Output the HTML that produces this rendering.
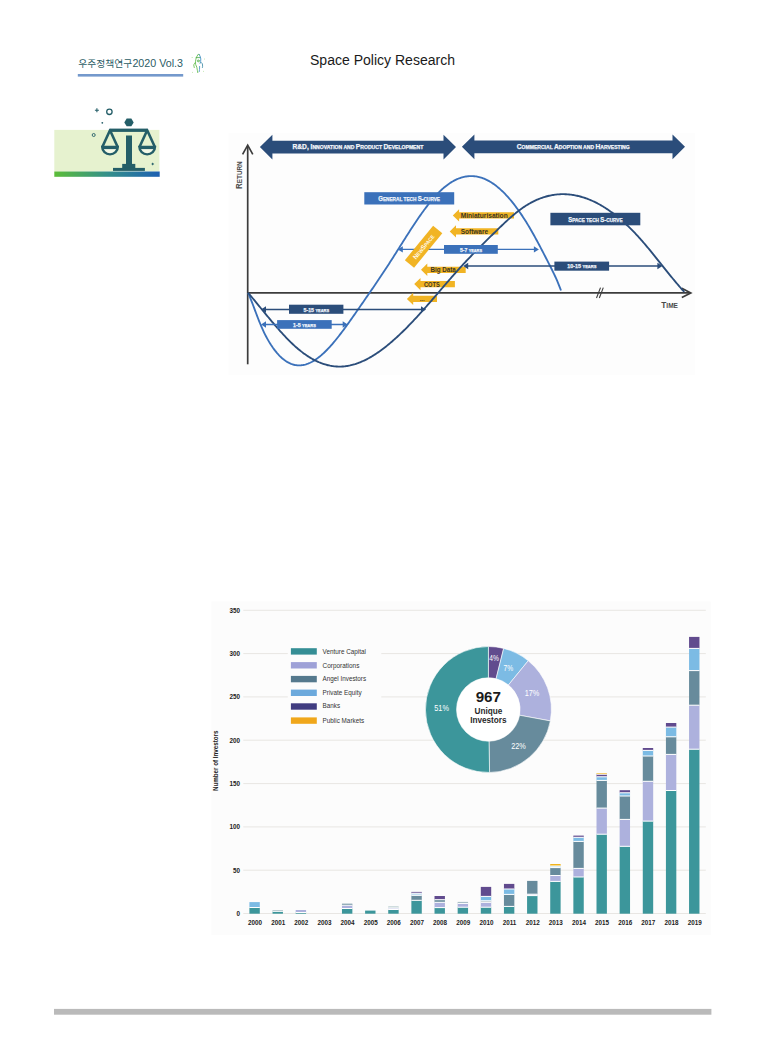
<!DOCTYPE html>
<html><head><meta charset="utf-8"><title>Space Policy Research</title>
<style>
html,body{margin:0;padding:0;background:#ffffff;}
body{width:765px;height:1063px;position:relative;overflow:hidden;}
svg{position:absolute;left:0;top:0;}
.hd{font-family:"Liberation Sans","Noto Sans CJK KR",sans-serif;}
.bn{font-family:"Liberation Sans",sans-serif;font-weight:bold;fill:#f4f6fa;stroke:#f4f6fa;stroke-width:0.25px;}
.bl{font-family:"Liberation Sans",sans-serif;font-weight:bold;fill:#f0f4fa;stroke:#f0f4fa;stroke-width:0.25px;}
.ax{font-family:"Liberation Sans",sans-serif;font-weight:bold;fill:#4a4a4a;}
.yl{font-family:"Liberation Sans",sans-serif;font-weight:bold;font-size:7.2px;fill:#3a3424;}
.ns{font-family:"Liberation Sans",sans-serif;font-weight:bold;fill:#fff8e8;}
.tk{font-family:"Liberation Sans",sans-serif;font-weight:bold;font-size:6.3px;fill:#222;}
.yr{font-family:"Liberation Sans",sans-serif;font-weight:bold;font-size:6.3px;fill:#222;}
.lg{font-family:"Liberation Sans",sans-serif;font-size:7px;fill:#333;}
.yt{font-family:"Liberation Sans",sans-serif;font-weight:bold;font-size:7.2px;fill:#222;}
.dl{font-family:"Liberation Sans",sans-serif;font-size:8.2px;fill:#ffffff;}
.big{font-family:"Liberation Sans",sans-serif;font-weight:bold;font-size:15.2px;fill:#1a1a1a;}
.ui{font-family:"Liberation Sans",sans-serif;font-weight:bold;font-size:8.2px;fill:#2a2a2a;}
</style></head><body>
<svg width="765" height="1063" viewBox="0 0 765 1063">
<text class="hd" x="78.2" y="66.9" style="fill:#2b5c65"><tspan style="font-size:9.6px" textLength="54" lengthAdjust="spacingAndGlyphs">우주정책연구</tspan><tspan x="132.4" style="font-size:10.8px" textLength="50.6" lengthAdjust="spacingAndGlyphs">2020 Vol.3</tspan></text>
<rect x="77.8" y="74" width="105.4" height="2.6" fill="#7499cc"/>
<g fill="none" stroke-width="0.85" stroke-linecap="round" stroke-linejoin="round">
<path d="M196.3,57.6 L198.1,54.3 L199.3,54.6" stroke="#5cb94a"/>
<path d="M196.3,57.6 L199.9,57.6" stroke="#4fae55"/>
<path d="M196.3,57.6 C195.5,60 195.3,62.5 195.7,64.6 L196.8,67.2 L197.4,70.5 L197.8,72.6" stroke="#5cbb48"/>
<path d="M195.2,62.6 L193.7,64.9 L194.3,67.6" stroke="#66bf4c"/>
<circle cx="198.3" cy="60.9" r="0.95" stroke="#58b450"/>
<path d="M199.3,54.6 L200.4,57 L200.8,59 C200.9,61 200.6,62.3 200.1,63.4" stroke="#3e8ec0"/>
<path d="M199.6,66.4 L199.5,69.5 L199.2,71.6" stroke="#4a93c4"/>
<path d="M200.9,62.3 L202.4,63.8 L202.6,66.3 L202.4,67.5" stroke="#3d8aa6"/>
<circle cx="192.1" cy="57.5" r="0.45" fill="#7fcc5e" stroke="none"/><circle cx="204.5" cy="59" r="0.45" fill="#86d06a" stroke="none"/>
<circle cx="192.6" cy="72.3" r="0.45" fill="#8fd270" stroke="none"/><circle cx="203.5" cy="71.3" r="0.45" fill="#8fd270" stroke="none"/>
</g>
<text class="hd" x="310" y="64.6" textLength="145" lengthAdjust="spacingAndGlyphs" style="font-size:14px;fill:#1a1a1a">Space Policy Research</text>
<defs><linearGradient id="gb" x1="0" x2="1" y1="0" y2="0"><stop offset="0" stop-color="#5cbd38"/><stop offset="0.5" stop-color="#34908a"/><stop offset="1" stop-color="#1d60b2"/></linearGradient></defs>
<rect x="54.3" y="129.9" width="105.1" height="41.6" fill="#e6f2cf"/>
<rect x="54.3" y="171.5" width="105.4" height="5.3" fill="url(#gb)"/>
<polygon fill="#245e68" points="133.70,122.40 131.35,126.35 126.65,126.35 124.30,122.40 126.65,118.45 131.35,118.45"/>
<rect x="109.6" y="128.6" width="38.2" height="3.3" fill="#245e68"/>
<rect x="126" y="135.5" width="6" height="29" fill="#245e68"/>
<rect x="122.2" y="163.9" width="13.1" height="4.5" fill="#245e68"/>
<rect x="113" y="167.9" width="31.9" height="3.0" fill="#245e68"/>
<polyline points="102.2,147.2 110.0,130.2 117.8,147.2" fill="none" stroke="#245e68" stroke-width="2.6" stroke-linejoin="round"/>
<path d="M102.2,147.0 L117.8,147.0 A7.8,7.4 0 0 1 102.2,147.0 Z" fill="#f3f8e6" stroke="#245e68" stroke-width="2.4"/>
<line x1="103.0" y1="148.4" x2="117.0" y2="148.4" stroke="#245e68" stroke-width="1.4"/>
<polyline points="139.4,147.2 147.2,130.2 155.0,147.2" fill="none" stroke="#245e68" stroke-width="2.6" stroke-linejoin="round"/>
<path d="M139.4,147.0 L155.0,147.0 A7.8,7.4 0 0 1 139.4,147.0 Z" fill="#f3f8e6" stroke="#245e68" stroke-width="2.4"/>
<line x1="140.2" y1="148.4" x2="154.2" y2="148.4" stroke="#245e68" stroke-width="1.4"/>
<path d="M96.9,108.3 V112.3 M94.9,110.3 H98.9" stroke="#245e68" stroke-width="1.1"/>
<circle cx="109.4" cy="111.8" r="2.7" fill="none" stroke="#245e68" stroke-width="1.3"/>
<circle cx="102.3" cy="122.8" r="0.9" fill="#245e68"/>
<circle cx="93.7" cy="135" r="1.5" fill="none" stroke="#245e68" stroke-width="0.9"/>
<path d="M152.7,162.4 L153.4,163.4 L154.3,164 L153.4,164.6 L152.7,165.6 L152,164.6 L151.1,164 L152,163.4 Z" fill="#245e68"/>
<rect x="228.5" y="133" width="466.4" height="241.8" fill="#fdfdfd"/>
<polygon fill="#2b4d7a" points="259.9,147.1 272.4,134.8 272.4,140.7 443.5,140.7 443.5,134.8 456.0,147.1 443.5,159.4 443.5,153.5 272.4,153.5 272.4,159.4"/>
<polygon fill="#2b4d7a" points="461.9,146.8 474.4,134.5 474.4,140.4 672.5,140.4 672.5,134.5 685.0,146.8 672.5,159.2 672.5,153.2 474.4,153.2 474.4,159.2"/>
<text x="292.5" y="149.0" textLength="130.8" lengthAdjust="spacingAndGlyphs" class="bn"><tspan style="font-size:6.40px">R&amp;D, I</tspan><tspan style="font-size:4.90px">NNOVATION AND </tspan><tspan style="font-size:6.40px">P</tspan><tspan style="font-size:4.90px">RODUCT </tspan><tspan style="font-size:6.40px">D</tspan><tspan style="font-size:4.90px">EVELOPMENT</tspan></text>
<text x="516.8" y="149.0" textLength="112.9" lengthAdjust="spacingAndGlyphs" class="bn"><tspan style="font-size:6.40px">C</tspan><tspan style="font-size:4.90px">OMMERCIAL </tspan><tspan style="font-size:6.40px">A</tspan><tspan style="font-size:4.90px">DOPTION AND </tspan><tspan style="font-size:6.40px">H</tspan><tspan style="font-size:4.90px">ARVESTING</tspan></text>
<line x1="247.7" y1="146" x2="247.7" y2="364.3" stroke="#3c3c3c" stroke-width="1.7"/>
<polyline points="242.6,154.3 247.7,145.2 252.8,154.3" fill="none" stroke="#3c3c3c" stroke-width="1.7"/>
<line x1="247" y1="292.9" x2="690" y2="292.9" stroke="#3c3c3c" stroke-width="1.7"/>
<polyline points="681.8,288.2 690.8,292.9 681.8,297.6" fill="none" stroke="#3c3c3c" stroke-width="1.7"/>
<text class="ax" transform="translate(242,189.0) rotate(-90)" textLength="27.7" lengthAdjust="spacingAndGlyphs"><tspan style="font-size:8.80px">R</tspan><tspan style="font-size:7.00px">ETURN</tspan></text>
<text class="ax" x="661.3" y="307.7" textLength="16.7" lengthAdjust="spacingAndGlyphs"><tspan style="font-size:8.80px">T</tspan><tspan style="font-size:7.00px">IME</tspan></text>
<line x1="596.5" y1="298" x2="600.5" y2="287.6" stroke="#3c3c3c" stroke-width="1.1"/>
<line x1="599.3" y1="298" x2="603.3" y2="287.6" stroke="#3c3c3c" stroke-width="1.1"/>
<polygon fill="#f1b424" points="452.8,215.4 459.1,209.2 459.1,212.3 514.0,212.3 514.0,218.5 459.1,218.5 459.1,221.6"/><text x="460.7" y="217.8" textLength="47.0" lengthAdjust="spacingAndGlyphs" class="yl" style="font-size:6.8px">Miniaturisation</text>
<polygon fill="#f1b424" points="449.7,231.4 456.0,225.2 456.0,228.3 498.3,228.3 498.3,234.5 456.0,234.5 456.0,237.6"/><text x="460.7" y="234.1" textLength="27.4" lengthAdjust="spacingAndGlyphs" class="yl" style="font-size:6.8px">Software</text>
<polygon fill="#f1b424" points="421.0,269.8 427.3,263.6 427.3,266.7 465.7,266.7 465.7,272.9 427.3,272.9 427.3,276.0"/><text x="430.6" y="272.0" textLength="25.2" lengthAdjust="spacingAndGlyphs" class="yl" style="font-size:6.8px">Big Data</text>
<polygon fill="#f1b424" points="414.2,284.1 420.5,277.9 420.5,281.0 454.9,281.0 454.9,287.2 420.5,287.2 420.5,290.3"/><text x="424.0" y="286.6" textLength="15.8" lengthAdjust="spacingAndGlyphs" class="yl" style="font-size:7.0px">COTS</text>
<polygon fill="#f1b424" points="406.9,298.9 413.2,292.7 413.2,295.8 437.0,295.8 437.0,302.0 413.2,302.0 413.2,305.1"/><text x="419.7" y="300.6" textLength="5.0" lengthAdjust="spacingAndGlyphs" class="yl" style="font-size:6.0px">...</text>
<path d="M248.1,292.90 L249.1,295.11 L250.1,297.54 L251.1,300.06 L252.1,302.64 L253.1,305.26 L254.1,307.91 L255.1,310.58 L256.1,313.24 L257.1,315.88 L258.1,318.49 L259.1,321.04 L260.1,323.52 L261.1,325.92 L262.1,328.22 L263.1,330.42 L264.1,332.54 L265.1,334.57 L266.1,336.51 L267.1,338.38 L268.1,340.16 L269.1,341.87 L270.1,343.50 L271.1,345.07 L272.1,346.56 L273.1,348.00 L274.1,349.37 L275.1,350.68 L276.1,351.92 L277.1,353.11 L278.1,354.24 L279.1,355.31 L280.1,356.33 L281.1,357.28 L282.1,358.18 L283.1,359.02 L284.1,359.81 L285.1,360.54 L286.1,361.22 L287.1,361.84 L288.1,362.41 L289.1,362.93 L290.1,363.40 L291.1,363.81 L292.1,364.17 L293.1,364.49 L294.1,364.75 L295.1,364.97 L296.1,365.14 L297.1,365.25 L298.1,365.33 L299.1,365.35 L300.1,365.33 L301.1,365.27 L302.1,365.16 L303.1,365.01 L304.1,364.81 L305.1,364.57 L306.1,364.29 L307.1,363.96 L308.1,363.60 L309.1,363.19 L310.1,362.75 L311.1,362.27 L312.1,361.74 L313.1,361.18 L314.1,360.59 L315.1,359.95 L316.1,359.28 L317.1,358.58 L318.1,357.84 L319.1,357.06 L320.1,356.26 L321.1,355.42 L322.1,354.54 L323.1,353.64 L324.1,352.71 L325.1,351.75 L326.1,350.76 L327.1,349.74 L328.1,348.69 L329.1,347.63 L330.1,346.53 L331.1,345.41 L332.1,344.27 L333.1,343.11 L334.1,341.92 L335.1,340.72 L336.1,339.49 L337.1,338.25 L338.1,336.99 L339.1,335.71 L340.1,334.42 L341.1,333.11 L342.1,331.79 L343.1,330.45 L344.1,329.10 L345.1,327.74 L346.1,326.36 L347.1,324.98 L348.1,323.59 L349.1,322.19 L350.1,320.78 L351.1,319.37 L352.1,317.95 L353.1,316.52 L354.1,315.10 L355.1,313.66 L356.1,312.23 L357.1,310.79 L358.1,309.36 L359.1,307.92 L360.1,306.49 L361.1,305.05 L362.1,303.61 L363.1,302.17 L364.1,300.73 L365.1,299.29 L366.1,297.84 L367.1,296.40 L368.1,294.95 L369.1,293.50 L370.1,292.05 L371.1,290.59 L372.1,289.13 L373.1,287.67 L374.1,286.21 L375.1,284.74 L376.1,283.26 L377.1,281.79 L378.1,280.31 L379.1,278.82 L380.1,277.33 L381.1,275.83 L382.1,274.33 L383.1,272.82 L384.1,271.31 L385.1,269.79 L386.1,268.27 L387.1,266.74 L388.1,265.20 L389.1,263.66 L390.1,262.11 L391.1,260.55 L392.1,258.99 L393.1,257.42 L394.1,255.84 L395.1,254.26 L396.1,252.68 L397.1,251.10 L398.1,249.51 L399.1,247.92 L400.1,246.33 L401.1,244.75 L402.1,243.16 L403.1,241.57 L404.1,239.99 L405.1,238.41 L406.1,236.84 L407.1,235.27 L408.1,233.70 L409.1,232.15 L410.1,230.60 L411.1,229.05 L412.1,227.52 L413.1,226.00 L414.1,224.48 L415.1,222.98 L416.1,221.49 L417.1,220.01 L418.1,218.54 L419.1,217.09 L420.1,215.65 L421.1,214.23 L422.1,212.83 L423.1,211.44 L424.1,210.07 L425.1,208.72 L426.1,207.38 L427.1,206.07 L428.1,204.78 L429.1,203.51 L430.1,202.26 L431.1,201.04 L432.1,199.83 L433.1,198.66 L434.1,197.51 L435.1,196.38 L436.1,195.28 L437.1,194.21 L438.1,193.17 L439.1,192.16 L440.1,191.17 L441.1,190.22 L442.1,189.30 L443.1,188.41 L444.1,187.55 L445.1,186.72 L446.1,185.92 L447.1,185.15 L448.1,184.42 L449.1,183.71 L450.1,183.04 L451.1,182.39 L452.1,181.78 L453.1,181.20 L454.1,180.65 L455.1,180.13 L456.1,179.64 L457.1,179.18 L458.1,178.76 L459.1,178.36 L460.1,178.00 L461.1,177.67 L462.1,177.37 L463.1,177.10 L464.1,176.86 L465.1,176.65 L466.1,176.48 L467.1,176.33 L468.1,176.22 L469.1,176.14 L470.1,176.09 L471.1,176.07 L472.1,176.08 L473.1,176.13 L474.1,176.21 L475.1,176.31 L476.1,176.45 L477.1,176.63 L478.1,176.83 L479.1,177.06 L480.1,177.33 L481.1,177.63 L482.1,177.96 L483.1,178.32 L484.1,178.71 L485.1,179.14 L486.1,179.59 L487.1,180.08 L488.1,180.59 L489.1,181.14 L490.1,181.72 L491.1,182.33 L492.1,182.96 L493.1,183.63 L494.1,184.33 L495.1,185.06 L496.1,185.82 L497.1,186.61 L498.1,187.43 L499.1,188.27 L500.1,189.15 L501.1,190.06 L502.1,190.99 L503.1,191.96 L504.1,192.95 L505.1,193.97 L506.1,195.02 L507.1,196.10 L508.1,197.21 L509.1,198.34 L510.1,199.51 L511.1,200.70 L512.1,201.92 L513.1,203.17 L514.1,204.44 L515.1,205.74 L516.1,207.07 L517.1,208.43 L518.1,209.82 L519.1,211.23 L520.1,212.67 L521.1,214.13 L522.1,215.62 L523.1,217.14 L524.1,218.69 L525.1,220.26 L526.1,221.86 L527.1,223.48 L528.1,225.13 L529.1,226.81 L530.1,228.51 L531.1,230.23 L532.1,231.98 L533.1,233.76 L534.1,235.55 L535.1,237.36 L536.1,239.19 L537.1,241.04 L538.1,242.91 L539.1,244.78 L540.1,246.68 L541.1,248.58 L542.1,250.49 L543.1,252.42 L544.1,254.35 L545.1,256.28 L546.1,258.23 L547.1,260.17 L548.1,262.12 L549.1,264.07 L550.1,266.03 L551.1,268.00 L552.1,270.00 L553.1,272.04 L554.1,274.12 L555.1,276.26 L556.1,278.46 L557.1,280.73 L558.1,283.09 L559.1,285.54 L560.1,288.09 L561.0,290.48" fill="none" stroke="#3b71ba" stroke-width="1.85"/>
<path d="M248.1,292.90 L249.1,293.94 L250.1,295.13 L251.1,296.33 L252.1,297.53 L253.1,298.74 L254.1,299.95 L255.1,301.16 L256.1,302.38 L257.1,303.60 L258.1,304.82 L259.1,306.04 L260.1,307.27 L261.1,308.49 L262.1,309.71 L263.1,310.93 L264.1,312.15 L265.1,313.37 L266.1,314.58 L267.1,315.79 L268.1,317.00 L269.1,318.21 L270.1,319.40 L271.1,320.60 L272.1,321.79 L273.1,322.97 L274.1,324.14 L275.1,325.31 L276.1,326.47 L277.1,327.62 L278.1,328.76 L279.1,329.90 L280.1,331.02 L281.1,332.13 L282.1,333.23 L283.1,334.32 L284.1,335.40 L285.1,336.47 L286.1,337.52 L287.1,338.56 L288.1,339.58 L289.1,340.59 L290.1,341.59 L291.1,342.56 L292.1,343.53 L293.1,344.47 L294.1,345.40 L295.1,346.31 L296.1,347.20 L297.1,348.07 L298.1,348.93 L299.1,349.76 L300.1,350.57 L301.1,351.37 L302.1,352.14 L303.1,352.90 L304.1,353.63 L305.1,354.35 L306.1,355.04 L307.1,355.72 L308.1,356.37 L309.1,357.01 L310.1,357.62 L311.1,358.22 L312.1,358.80 L313.1,359.35 L314.1,359.89 L315.1,360.40 L316.1,360.90 L317.1,361.37 L318.1,361.82 L319.1,362.26 L320.1,362.67 L321.1,363.06 L322.1,363.44 L323.1,363.79 L324.1,364.12 L325.1,364.43 L326.1,364.72 L327.1,364.99 L328.1,365.24 L329.1,365.47 L330.1,365.68 L331.1,365.86 L332.1,366.03 L333.1,366.17 L334.1,366.30 L335.1,366.40 L336.1,366.48 L337.1,366.54 L338.1,366.58 L339.1,366.60 L340.1,366.60 L341.1,366.58 L342.1,366.53 L343.1,366.47 L344.1,366.38 L345.1,366.28 L346.1,366.15 L347.1,366.00 L348.1,365.83 L349.1,365.64 L350.1,365.44 L351.1,365.21 L352.1,364.96 L353.1,364.69 L354.1,364.41 L355.1,364.11 L356.1,363.78 L357.1,363.44 L358.1,363.08 L359.1,362.70 L360.1,362.31 L361.1,361.90 L362.1,361.47 L363.1,361.02 L364.1,360.55 L365.1,360.07 L366.1,359.57 L367.1,359.06 L368.1,358.53 L369.1,357.98 L370.1,357.42 L371.1,356.84 L372.1,356.25 L373.1,355.64 L374.1,355.01 L375.1,354.38 L376.1,353.72 L377.1,353.05 L378.1,352.37 L379.1,351.68 L380.1,350.97 L381.1,350.24 L382.1,349.51 L383.1,348.75 L384.1,347.99 L385.1,347.21 L386.1,346.43 L387.1,345.62 L388.1,344.81 L389.1,343.98 L390.1,343.15 L391.1,342.30 L392.1,341.44 L393.1,340.56 L394.1,339.68 L395.1,338.79 L396.1,337.88 L397.1,336.97 L398.1,336.04 L399.1,335.10 L400.1,334.16 L401.1,333.20 L402.1,332.24 L403.1,331.26 L404.1,330.28 L405.1,329.29 L406.1,328.29 L407.1,327.28 L408.1,326.26 L409.1,325.23 L410.1,324.20 L411.1,323.16 L412.1,322.11 L413.1,321.05 L414.1,319.99 L415.1,318.92 L416.1,317.84 L417.1,316.76 L418.1,315.67 L419.1,314.57 L420.1,313.47 L421.1,312.36 L422.1,311.25 L423.1,310.13 L424.1,309.01 L425.1,307.88 L426.1,306.75 L427.1,305.61 L428.1,304.47 L429.1,303.32 L430.1,302.17 L431.1,301.02 L432.1,299.87 L433.1,298.71 L434.1,297.55 L435.1,296.39 L436.1,295.23 L437.1,294.07 L438.1,292.90 L439.1,291.74 L440.1,290.58 L441.1,289.41 L442.1,288.25 L443.1,287.08 L444.1,285.92 L445.1,284.76 L446.1,283.60 L447.1,282.45 L448.1,281.29 L449.1,280.14 L450.1,278.99 L451.1,277.84 L452.1,276.70 L453.1,275.56 L454.1,274.43 L455.1,273.30 L456.1,272.17 L457.1,271.05 L458.1,269.94 L459.1,268.83 L460.1,267.73 L461.1,266.63 L462.1,265.54 L463.1,264.46 L464.1,263.38 L465.1,262.31 L466.1,261.25 L467.1,260.19 L468.1,259.13 L469.1,258.08 L470.1,257.04 L471.1,256.00 L472.1,254.96 L473.1,253.93 L474.1,252.91 L475.1,251.89 L476.1,250.87 L477.1,249.85 L478.1,248.84 L479.1,247.84 L480.1,246.83 L481.1,245.83 L482.1,244.84 L483.1,243.84 L484.1,242.85 L485.1,241.86 L486.1,240.87 L487.1,239.89 L488.1,238.90 L489.1,237.92 L490.1,236.94 L491.1,235.96 L492.1,234.98 L493.1,234.01 L494.1,233.03 L495.1,232.05 L496.1,231.08 L497.1,230.10 L498.1,229.13 L499.1,228.16 L500.1,227.20 L501.1,226.23 L502.1,225.28 L503.1,224.32 L504.1,223.38 L505.1,222.44 L506.1,221.51 L507.1,220.59 L508.1,219.67 L509.1,218.77 L510.1,217.87 L511.1,216.99 L512.1,216.12 L513.1,215.26 L514.1,214.42 L515.1,213.59 L516.1,212.77 L517.1,211.97 L518.1,211.19 L519.1,210.42 L520.1,209.67 L521.1,208.94 L522.1,208.23 L523.1,207.53 L524.1,206.86 L525.1,206.20 L526.1,205.56 L527.1,204.94 L528.1,204.34 L529.1,203.75 L530.1,203.18 L531.1,202.63 L532.1,202.10 L533.1,201.59 L534.1,201.09 L535.1,200.61 L536.1,200.15 L537.1,199.71 L538.1,199.29 L539.1,198.88 L540.1,198.49 L541.1,198.11 L542.1,197.76 L543.1,197.42 L544.1,197.10 L545.1,196.79 L546.1,196.51 L547.1,196.24 L548.1,195.98 L549.1,195.75 L550.1,195.53 L551.1,195.32 L552.1,195.14 L553.1,194.97 L554.1,194.81 L555.1,194.68 L556.1,194.56 L557.1,194.45 L558.1,194.37 L559.1,194.30 L560.1,194.24 L561.1,194.20 L562.1,194.18 L563.1,194.18 L564.1,194.19 L565.1,194.21 L566.1,194.25 L567.1,194.31 L568.1,194.39 L569.1,194.47 L570.1,194.58 L571.1,194.70 L572.1,194.84 L573.1,194.99 L574.1,195.16 L575.1,195.34 L576.1,195.54 L577.1,195.75 L578.1,195.98 L579.1,196.22 L580.1,196.48 L581.1,196.75 L582.1,197.04 L583.1,197.35 L584.1,197.67 L585.1,198.00 L586.1,198.35 L587.1,198.72 L588.1,199.10 L589.1,199.49 L590.1,199.90 L591.1,200.32 L592.1,200.76 L593.1,201.22 L594.1,201.68 L595.1,202.17 L596.1,202.67 L597.1,203.18 L598.1,203.70 L599.1,204.25 L600.1,204.80 L601.1,205.37 L602.1,205.96 L603.1,206.56 L604.1,207.17 L605.1,207.80 L606.1,208.45 L607.1,209.10 L608.1,209.77 L609.1,210.46 L610.1,211.16 L611.1,211.88 L612.1,212.60 L613.1,213.35 L614.1,214.10 L615.1,214.88 L616.1,215.66 L617.1,216.46 L618.1,217.27 L619.1,218.10 L620.1,218.94 L621.1,219.80 L622.1,220.67 L623.1,221.55 L624.1,222.45 L625.1,223.36 L626.1,224.28 L627.1,225.22 L628.1,226.17 L629.1,227.14 L630.1,228.12 L631.1,229.11 L632.1,230.11 L633.1,231.13 L634.1,232.17 L635.1,233.22 L636.1,234.28 L637.1,235.35 L638.1,236.44 L639.1,237.54 L640.1,238.65 L641.1,239.78 L642.1,240.92 L643.1,242.07 L644.1,243.23 L645.1,244.40 L646.1,245.59 L647.1,246.78 L648.1,247.98 L649.1,249.19 L650.1,250.40 L651.1,251.63 L652.1,252.86 L653.1,254.09 L654.1,255.33 L655.1,256.57 L656.1,257.82 L657.1,259.07 L658.1,260.32 L659.1,261.58 L660.1,262.84 L661.1,264.09 L662.1,265.35 L663.1,266.61 L664.1,267.86 L665.1,269.11 L666.1,270.36 L667.1,271.61 L668.1,272.85 L669.1,274.09 L670.1,275.33 L671.1,276.56 L672.1,277.78 L673.1,278.99 L674.1,280.20 L675.1,281.40 L676.1,282.59 L677.1,283.77 L678.1,284.94 L679.1,286.11 L680.1,287.26 L681.1,288.39 L682.1,289.52 L683.1,290.63 L684.1,291.73 L684.3,291.95" fill="none" stroke="#2b4d7a" stroke-width="1.85"/>
<line x1="399.8" y1="249.4" x2="536.9" y2="249.4" stroke="#3b71ba" stroke-width="1.3"/><polygon fill="#3b71ba" points="397.8,249.4 402.8,246.2 402.8,252.6"/><polygon fill="#3b71ba" points="538.9,249.4 533.9,246.2 533.9,252.6"/>
<rect x="444.0" y="245.0" width="53.8" height="8.8" fill="#3b71ba"/><text x="459.9" y="251.8" textLength="22.1" lengthAdjust="spacingAndGlyphs" class="bl"><tspan style="font-size:5.80px">5-7 </tspan><tspan style="font-size:4.40px">YEARS</tspan></text>
<line x1="465.2" y1="266.0" x2="660.4" y2="266.0" stroke="#2b4d7a" stroke-width="1.3"/><polygon fill="#2b4d7a" points="463.2,266.0 468.2,262.8 468.2,269.2"/><polygon fill="#2b4d7a" points="662.4,266.0 657.4,262.8 657.4,269.2"/>
<rect x="554.4" y="261.6" width="54.7" height="9.1" fill="#2b4d7a"/><text x="567.2" y="268.4" textLength="29.3" lengthAdjust="spacingAndGlyphs" class="bl"><tspan style="font-size:5.80px">10-15 </tspan><tspan style="font-size:4.40px">YEARS</tspan></text>
<line x1="263.0" y1="309.5" x2="424.0" y2="309.5" stroke="#2b4d7a" stroke-width="1.3"/><polygon fill="#2b4d7a" points="261.0,309.5 266.0,306.3 266.0,312.7"/><polygon fill="#2b4d7a" points="426.0,309.5 421.0,306.3 421.0,312.7"/>
<rect x="289.0" y="304.7" width="54.4" height="9.1" fill="#2b4d7a"/><text x="303.5" y="311.5" textLength="25.6" lengthAdjust="spacingAndGlyphs" class="bl"><tspan style="font-size:5.80px">5-15 </tspan><tspan style="font-size:4.40px">YEARS</tspan></text>
<line x1="263.0" y1="324.5" x2="345.7" y2="324.5" stroke="#3b71ba" stroke-width="1.3"/><polygon fill="#3b71ba" points="261.0,324.5 266.0,321.3 266.0,327.7"/><polygon fill="#3b71ba" points="347.7,324.5 342.7,321.3 342.7,327.7"/>
<rect x="277.1" y="320.1" width="54.6" height="8.7" fill="#3b71ba"/><text x="293.0" y="327.0" textLength="22.8" lengthAdjust="spacingAndGlyphs" class="bl"><tspan style="font-size:5.80px">1-5 </tspan><tspan style="font-size:4.40px">YEARS</tspan></text>
<g transform="translate(423.6,246.7) rotate(-50.7)"><rect x="-22.3" y="-5.95" width="44.6" height="11.9" fill="#f1b424"/><text class="ns" x="-15" y="2.4" textLength="30" lengthAdjust="spacingAndGlyphs"><tspan style="font-size:6.60px">N</tspan><tspan style="font-size:5.20px">EW</tspan><tspan style="font-size:6.60px">S</tspan><tspan style="font-size:5.20px">PACE</tspan></text></g>
<rect x="364.3" y="192.2" width="89.9" height="12.3" fill="#3b71ba"/><text x="378.3" y="201.1" textLength="61.7" lengthAdjust="spacingAndGlyphs" class="bl"><tspan style="font-size:7.00px">G</tspan><tspan style="font-size:5.50px">ENERAL TECH </tspan><tspan style="font-size:7.00px">S-</tspan><tspan style="font-size:5.50px">CURVE</tspan></text>
<rect x="550.4" y="212.8" width="89.9" height="12.5" fill="#2b4d7a"/><text x="568.2" y="221.8" textLength="54.4" lengthAdjust="spacingAndGlyphs" class="bl"><tspan style="font-size:7.00px">S</tspan><tspan style="font-size:5.50px">PACE TECH </tspan><tspan style="font-size:7.00px">S-</tspan><tspan style="font-size:5.50px">CURVE</tspan></text>
<rect x="211.3" y="601.5" width="499.6" height="333.4" fill="#fcfcfc"/>
<line x1="243.3" y1="913.5" x2="705.8" y2="913.5" stroke="#e8e6e3" stroke-width="1"/>
<text class="tk" x="240.1" y="915.9" text-anchor="end">0</text>
<line x1="243.3" y1="870.2" x2="705.8" y2="870.2" stroke="#e8e6e3" stroke-width="1"/>
<text class="tk" x="240.1" y="872.6" text-anchor="end">50</text>
<line x1="243.3" y1="826.9" x2="705.8" y2="826.9" stroke="#e8e6e3" stroke-width="1"/>
<text class="tk" x="240.1" y="829.3" text-anchor="end">100</text>
<line x1="243.3" y1="783.6" x2="705.8" y2="783.6" stroke="#e8e6e3" stroke-width="1"/>
<text class="tk" x="240.1" y="786.0" text-anchor="end">150</text>
<line x1="243.3" y1="740.2" x2="705.8" y2="740.2" stroke="#e8e6e3" stroke-width="1"/>
<text class="tk" x="240.1" y="742.6" text-anchor="end">200</text>
<line x1="243.3" y1="696.9" x2="705.8" y2="696.9" stroke="#e8e6e3" stroke-width="1"/>
<text class="tk" x="240.1" y="699.3" text-anchor="end">250</text>
<line x1="243.3" y1="653.6" x2="705.8" y2="653.6" stroke="#e8e6e3" stroke-width="1"/>
<text class="tk" x="240.1" y="656.0" text-anchor="end">300</text>
<line x1="243.3" y1="610.3" x2="705.8" y2="610.3" stroke="#e8e6e3" stroke-width="1"/>
<text class="tk" x="240.1" y="612.7" text-anchor="end">350</text>
<rect x="287.8" y="640" width="93.5" height="90" fill="#fcfcfc"/>
<rect x="249.40" y="907.50" width="10.40" height="6.20" fill="#3c969b"/>
<rect x="249.40" y="902.10" width="10.40" height="5.40" fill="#7cbbe4"/>
<rect x="249.40" y="907.00" width="10.40" height="1.0" fill="#ffffff"/>
<text class="yr" x="255.00" y="924.6" text-anchor="middle">2000</text>
<rect x="272.54" y="911.30" width="10.40" height="2.40" fill="#3c969b"/>
<rect x="272.54" y="910.00" width="10.40" height="1.30" fill="#a9bfc6"/>
<rect x="272.54" y="910.80" width="10.40" height="1.0" fill="#ffffff"/>
<text class="yr" x="278.14" y="924.6" text-anchor="middle">2001</text>
<rect x="295.68" y="912.50" width="10.40" height="1.20" fill="#3c969b"/>
<rect x="295.68" y="910.00" width="10.40" height="2.50" fill="#adb1dd"/>
<rect x="295.68" y="912.00" width="10.40" height="1.0" fill="#ffffff"/>
<text class="yr" x="301.28" y="924.6" text-anchor="middle">2002</text>
<text class="yr" x="324.42" y="924.6" text-anchor="middle">2003</text>
<rect x="341.96" y="908.50" width="10.40" height="5.20" fill="#3c969b"/>
<rect x="341.96" y="905.20" width="10.40" height="3.30" fill="#adb1dd"/>
<rect x="341.96" y="903.70" width="10.40" height="1.50" fill="#678b9c"/>
<rect x="341.96" y="908.00" width="10.40" height="1.0" fill="#ffffff"/>
<rect x="341.96" y="904.70" width="10.40" height="1.0" fill="#ffffff"/>
<text class="yr" x="347.56" y="924.6" text-anchor="middle">2004</text>
<rect x="365.10" y="910.60" width="10.40" height="3.10" fill="#3c969b"/>
<text class="yr" x="370.70" y="924.6" text-anchor="middle">2005</text>
<rect x="388.24" y="909.50" width="10.40" height="4.20" fill="#3c969b"/>
<rect x="388.24" y="907.90" width="10.40" height="1.60" fill="#d3d5ee"/>
<rect x="388.24" y="906.40" width="10.40" height="1.50" fill="#b2c7cb"/>
<rect x="388.24" y="909.00" width="10.40" height="1.0" fill="#ffffff"/>
<rect x="388.24" y="907.40" width="10.40" height="1.0" fill="#ffffff"/>
<text class="yr" x="393.84" y="924.6" text-anchor="middle">2006</text>
<rect x="411.38" y="900.30" width="10.40" height="13.40" fill="#3c969b"/>
<rect x="411.38" y="895.30" width="10.40" height="5.00" fill="#678b9c"/>
<rect x="411.38" y="893.20" width="10.40" height="2.10" fill="#b5d7ee"/>
<rect x="411.38" y="891.90" width="10.40" height="1.30" fill="#614b8e"/>
<rect x="411.38" y="899.80" width="10.40" height="1.0" fill="#ffffff"/>
<rect x="411.38" y="894.80" width="10.40" height="1.0" fill="#ffffff"/>
<rect x="411.38" y="892.70" width="10.40" height="1.0" fill="#ffffff"/>
<text class="yr" x="416.98" y="924.6" text-anchor="middle">2007</text>
<rect x="434.52" y="907.60" width="10.40" height="6.10" fill="#3c969b"/>
<rect x="434.52" y="902.30" width="10.40" height="5.30" fill="#adb1dd"/>
<rect x="434.52" y="899.70" width="10.40" height="2.60" fill="#678b9c"/>
<rect x="434.52" y="896.00" width="10.40" height="3.70" fill="#614b8e"/>
<rect x="434.52" y="907.10" width="10.40" height="1.0" fill="#ffffff"/>
<rect x="434.52" y="901.80" width="10.40" height="1.0" fill="#ffffff"/>
<rect x="434.52" y="899.20" width="10.40" height="1.0" fill="#ffffff"/>
<text class="yr" x="440.12" y="924.6" text-anchor="middle">2008</text>
<rect x="457.66" y="907.20" width="10.40" height="6.50" fill="#3c969b"/>
<rect x="457.66" y="903.40" width="10.40" height="3.80" fill="#adb1dd"/>
<rect x="457.66" y="901.90" width="10.40" height="1.50" fill="#9fb6c0"/>
<rect x="457.66" y="906.70" width="10.40" height="1.0" fill="#ffffff"/>
<rect x="457.66" y="902.90" width="10.40" height="1.0" fill="#ffffff"/>
<text class="yr" x="463.26" y="924.6" text-anchor="middle">2009</text>
<rect x="480.80" y="907.20" width="10.40" height="6.50" fill="#3c969b"/>
<rect x="480.80" y="902.30" width="10.40" height="4.90" fill="#adb1dd"/>
<rect x="480.80" y="900.80" width="10.40" height="1.50" fill="#a8b8c0"/>
<rect x="480.80" y="896.40" width="10.40" height="4.40" fill="#7cbbe4"/>
<rect x="480.80" y="886.90" width="10.40" height="9.50" fill="#614b8e"/>
<rect x="480.80" y="906.70" width="10.40" height="1.0" fill="#ffffff"/>
<rect x="480.80" y="901.80" width="10.40" height="1.0" fill="#ffffff"/>
<rect x="480.80" y="900.30" width="10.40" height="1.0" fill="#ffffff"/>
<rect x="480.80" y="895.90" width="10.40" height="1.0" fill="#ffffff"/>
<text class="yr" x="486.40" y="924.6" text-anchor="middle">2010</text>
<rect x="503.94" y="906.40" width="10.40" height="7.30" fill="#3c969b"/>
<rect x="503.94" y="894.40" width="10.40" height="12.00" fill="#678b9c"/>
<rect x="503.94" y="889.00" width="10.40" height="5.40" fill="#7cbbe4"/>
<rect x="503.94" y="883.90" width="10.40" height="5.10" fill="#614b8e"/>
<rect x="503.94" y="905.90" width="10.40" height="1.0" fill="#ffffff"/>
<rect x="503.94" y="893.90" width="10.40" height="1.0" fill="#ffffff"/>
<rect x="503.94" y="888.50" width="10.40" height="1.0" fill="#ffffff"/>
<text class="yr" x="509.54" y="924.6" text-anchor="middle">2011</text>
<rect x="527.08" y="895.60" width="10.40" height="18.10" fill="#3c969b"/>
<rect x="527.08" y="894.20" width="10.40" height="1.40" fill="#d3d5ee"/>
<rect x="527.08" y="880.90" width="10.40" height="13.30" fill="#678b9c"/>
<rect x="527.08" y="895.10" width="10.40" height="1.0" fill="#ffffff"/>
<rect x="527.08" y="893.70" width="10.40" height="1.0" fill="#ffffff"/>
<text class="yr" x="532.68" y="924.6" text-anchor="middle">2012</text>
<rect x="550.22" y="881.40" width="10.40" height="32.30" fill="#3c969b"/>
<rect x="550.22" y="875.50" width="10.40" height="5.90" fill="#adb1dd"/>
<rect x="550.22" y="867.60" width="10.40" height="7.90" fill="#678b9c"/>
<rect x="550.22" y="866.00" width="10.40" height="1.60" fill="#b7dcf0"/>
<rect x="550.22" y="864.00" width="10.40" height="2.00" fill="#f0b41e"/>
<rect x="550.22" y="880.90" width="10.40" height="1.0" fill="#ffffff"/>
<rect x="550.22" y="875.00" width="10.40" height="1.0" fill="#ffffff"/>
<rect x="550.22" y="867.10" width="10.40" height="1.0" fill="#ffffff"/>
<rect x="550.22" y="865.50" width="10.40" height="1.0" fill="#ffffff"/>
<text class="yr" x="555.82" y="924.6" text-anchor="middle">2013</text>
<rect x="573.36" y="877.00" width="10.40" height="36.70" fill="#3c969b"/>
<rect x="573.36" y="868.40" width="10.40" height="8.60" fill="#adb1dd"/>
<rect x="573.36" y="841.40" width="10.40" height="27.00" fill="#678b9c"/>
<rect x="573.36" y="837.30" width="10.40" height="4.10" fill="#7cbbe4"/>
<rect x="573.36" y="835.60" width="10.40" height="1.70" fill="#614b8e"/>
<rect x="573.36" y="876.50" width="10.40" height="1.0" fill="#ffffff"/>
<rect x="573.36" y="867.90" width="10.40" height="1.0" fill="#ffffff"/>
<rect x="573.36" y="840.90" width="10.40" height="1.0" fill="#ffffff"/>
<rect x="573.36" y="836.80" width="10.40" height="1.0" fill="#ffffff"/>
<text class="yr" x="578.96" y="924.6" text-anchor="middle">2014</text>
<rect x="596.50" y="834.20" width="10.40" height="79.50" fill="#3c969b"/>
<rect x="596.50" y="808.10" width="10.40" height="26.10" fill="#adb1dd"/>
<rect x="596.50" y="780.40" width="10.40" height="27.70" fill="#678b9c"/>
<rect x="596.50" y="776.80" width="10.40" height="3.60" fill="#7cbbe4"/>
<rect x="596.50" y="774.20" width="10.40" height="2.60" fill="#614b8e"/>
<rect x="596.50" y="773.10" width="10.40" height="1.10" fill="#f0b41e"/>
<rect x="596.50" y="833.70" width="10.40" height="1.0" fill="#ffffff"/>
<rect x="596.50" y="807.60" width="10.40" height="1.0" fill="#ffffff"/>
<rect x="596.50" y="779.90" width="10.40" height="1.0" fill="#ffffff"/>
<rect x="596.50" y="776.30" width="10.40" height="1.0" fill="#ffffff"/>
<rect x="596.50" y="773.70" width="10.40" height="1.0" fill="#ffffff"/>
<text class="yr" x="602.10" y="924.6" text-anchor="middle">2015</text>
<rect x="619.64" y="846.30" width="10.40" height="67.40" fill="#3c969b"/>
<rect x="619.64" y="819.40" width="10.40" height="26.90" fill="#adb1dd"/>
<rect x="619.64" y="796.00" width="10.40" height="23.40" fill="#678b9c"/>
<rect x="619.64" y="792.80" width="10.40" height="3.20" fill="#7cbbe4"/>
<rect x="619.64" y="790.20" width="10.40" height="2.60" fill="#614b8e"/>
<rect x="619.64" y="845.80" width="10.40" height="1.0" fill="#ffffff"/>
<rect x="619.64" y="818.90" width="10.40" height="1.0" fill="#ffffff"/>
<rect x="619.64" y="795.50" width="10.40" height="1.0" fill="#ffffff"/>
<rect x="619.64" y="792.30" width="10.40" height="1.0" fill="#ffffff"/>
<text class="yr" x="625.24" y="924.6" text-anchor="middle">2016</text>
<rect x="642.78" y="821.10" width="10.40" height="92.60" fill="#3c969b"/>
<rect x="642.78" y="781.30" width="10.40" height="39.80" fill="#adb1dd"/>
<rect x="642.78" y="756.00" width="10.40" height="25.30" fill="#678b9c"/>
<rect x="642.78" y="750.40" width="10.40" height="5.60" fill="#7cbbe4"/>
<rect x="642.78" y="748.00" width="10.40" height="2.40" fill="#614b8e"/>
<rect x="642.78" y="820.60" width="10.40" height="1.0" fill="#ffffff"/>
<rect x="642.78" y="780.80" width="10.40" height="1.0" fill="#ffffff"/>
<rect x="642.78" y="755.50" width="10.40" height="1.0" fill="#ffffff"/>
<rect x="642.78" y="749.90" width="10.40" height="1.0" fill="#ffffff"/>
<text class="yr" x="648.38" y="924.6" text-anchor="middle">2017</text>
<rect x="665.92" y="790.50" width="10.40" height="123.20" fill="#3c969b"/>
<rect x="665.92" y="754.40" width="10.40" height="36.10" fill="#adb1dd"/>
<rect x="665.92" y="736.80" width="10.40" height="17.60" fill="#678b9c"/>
<rect x="665.92" y="727.10" width="10.40" height="9.70" fill="#7cbbe4"/>
<rect x="665.92" y="723.00" width="10.40" height="4.10" fill="#614b8e"/>
<rect x="665.92" y="790.00" width="10.40" height="1.0" fill="#ffffff"/>
<rect x="665.92" y="753.90" width="10.40" height="1.0" fill="#ffffff"/>
<rect x="665.92" y="736.30" width="10.40" height="1.0" fill="#ffffff"/>
<rect x="665.92" y="726.60" width="10.40" height="1.0" fill="#ffffff"/>
<text class="yr" x="671.52" y="924.6" text-anchor="middle">2018</text>
<rect x="689.06" y="749.20" width="10.40" height="164.50" fill="#3c969b"/>
<rect x="689.06" y="705.20" width="10.40" height="44.00" fill="#adb1dd"/>
<rect x="689.06" y="670.60" width="10.40" height="34.60" fill="#678b9c"/>
<rect x="689.06" y="648.40" width="10.40" height="22.20" fill="#7cbbe4"/>
<rect x="689.06" y="636.90" width="10.40" height="11.50" fill="#614b8e"/>
<rect x="689.06" y="748.70" width="10.40" height="1.0" fill="#ffffff"/>
<rect x="689.06" y="704.70" width="10.40" height="1.0" fill="#ffffff"/>
<rect x="689.06" y="670.10" width="10.40" height="1.0" fill="#ffffff"/>
<rect x="689.06" y="647.90" width="10.40" height="1.0" fill="#ffffff"/>
<text class="yr" x="694.66" y="924.6" text-anchor="middle">2019</text>
<rect x="290.9" y="648.2" width="25.9" height="6.4" fill="#358e95"/>
<text class="lg" x="322.6" y="653.8" textLength="43.4" lengthAdjust="spacingAndGlyphs">Venture Capital</text>
<rect x="290.9" y="662.1" width="25.9" height="6.4" fill="#9ea1d7"/>
<text class="lg" x="322.6" y="667.6" textLength="36.8" lengthAdjust="spacingAndGlyphs">Corporations</text>
<rect x="290.9" y="675.9" width="25.9" height="6.4" fill="#55798d"/>
<text class="lg" x="322.6" y="681.1" textLength="43.5" lengthAdjust="spacingAndGlyphs">Angel Investors</text>
<rect x="290.9" y="689.6" width="25.9" height="6.4" fill="#6ca9dc"/>
<text class="lg" x="322.6" y="694.7" textLength="39.0" lengthAdjust="spacingAndGlyphs">Private Equity</text>
<rect x="290.9" y="703.3" width="25.9" height="6.4" fill="#403c80"/>
<text class="lg" x="322.6" y="707.8" textLength="17.5" lengthAdjust="spacingAndGlyphs">Banks</text>
<rect x="290.9" y="717.4" width="25.9" height="6.4" fill="#f0a71b"/>
<text class="lg" x="322.6" y="722.6" textLength="41.5" lengthAdjust="spacingAndGlyphs">Public Markets</text>
<text class="yt" transform="translate(218.3,791.1) rotate(-90)" textLength="60.6" lengthAdjust="spacingAndGlyphs">Number of Investors</text>
<path d="M488.40,646.50 A63.0,63.0 0 0 1 503.68,648.38 L496.09,678.75 A31.7,31.7 0 0 0 488.40,677.80 Z" fill="#614b8e" stroke="#ffffff" stroke-width="0.6"/>
<path d="M503.68,648.38 A63.0,63.0 0 0 1 528.25,660.71 L508.45,684.95 A31.7,31.7 0 0 0 496.09,678.75 Z" fill="#7cbbe4" stroke="#ffffff" stroke-width="0.6"/>
<path d="M528.25,660.71 A63.0,63.0 0 0 1 550.36,720.92 L519.58,715.24 A31.7,31.7 0 0 0 508.45,684.95 Z" fill="#adb1dd" stroke="#ffffff" stroke-width="0.6"/>
<path d="M550.36,720.92 A63.0,63.0 0 0 1 489.59,772.49 L489.00,741.19 A31.7,31.7 0 0 0 519.58,715.24 Z" fill="#678b9c" stroke="#ffffff" stroke-width="0.6"/>
<path d="M489.59,772.49 A63.0,63.0 0 1 1 488.40,646.50 L488.40,677.80 A31.7,31.7 0 1 0 489.00,741.19 Z" fill="#3c969b" stroke="#ffffff" stroke-width="0.6"/>
<circle cx="488.4" cy="709.5" r="31.4" fill="#ffffff"/>
<text class="dl" x="494.1" y="660.8" text-anchor="middle" textLength="9.6" lengthAdjust="spacingAndGlyphs">4%</text>
<text class="dl" x="508.4" y="671.4" text-anchor="middle" textLength="9.6" lengthAdjust="spacingAndGlyphs">7%</text>
<text class="dl" x="532.0" y="696.4" text-anchor="middle" textLength="14.7" lengthAdjust="spacingAndGlyphs">17%</text>
<text class="dl" x="518.5" y="749.1" text-anchor="middle" textLength="14.7" lengthAdjust="spacingAndGlyphs">22%</text>
<text class="dl" x="441.6" y="711.0" text-anchor="middle" textLength="14.7" lengthAdjust="spacingAndGlyphs">51%</text>
<text class="big" x="488.3" y="701.9" text-anchor="middle">967</text>
<text class="ui" x="488.4" y="713.6" text-anchor="middle">Unique</text>
<text class="ui" x="488.4" y="723.0" text-anchor="middle">Investors</text>
<rect x="54" y="1008.9" width="657.4" height="5.8" fill="#bababa"/>
</svg>
</body></html>
